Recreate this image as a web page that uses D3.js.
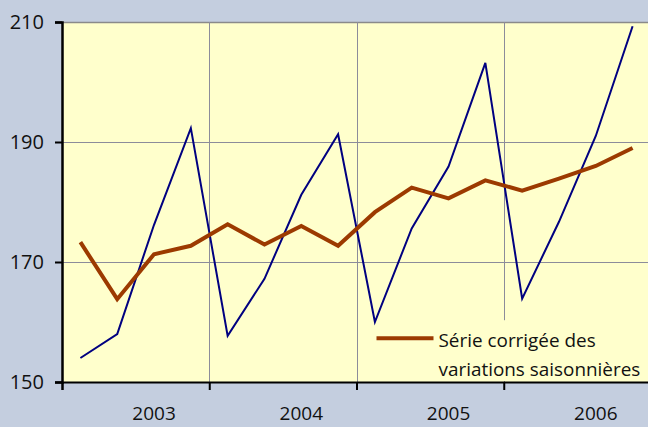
<!DOCTYPE html>
<html>
<head>
<meta charset="utf-8">
<script src="https://cdn.jsdelivr.net/npm/d3@7"></script>
<style>
  body { margin: 0; background: #c4cedf; }
  svg { display: block; }
  text { font-family: "Open Sans", "Noto Sans", sans-serif; fill: #111; }
</style>
</head>
<body>
<script>
// data: quarterly values 2003-2006
var years = ['2003', '2004', '2005', '2006'];
var brut = [154.0, 158.0, 176.2, 192.3, 157.7, 167.2, 181.2, 191.3,
            160.0, 175.6, 185.9, 203.2, 163.9, 176.7, 191.0, 209.3];
var cvs = [173.3, 163.8, 171.3, 172.7, 176.3, 172.9, 176.0, 172.7,
           178.3, 182.4, 180.6, 183.6, 181.9, 183.9, 186.0, 189.0];
var yTicks = [150, 170, 190, 210];
var legendLines = ['Série corrigée des', 'variations saisonnières'];

//setup size
var W = 648, H = 427;
var margin = {top: 22, left: 62, bottom: 45, right: -3};
var width = W - margin.left - margin.right,
    height = H - margin.top - margin.bottom;

var svg = d3.select('body').append('svg')
    .attr('width', W)
    .attr('height', H);

var g = svg.append('g')
    .attr('transform', 'translate(' + margin.left + ',' + margin.top + ')');

//scales
var xScale = d3.scaleLinear().domain([0, brut.length]).range([0, width]);
var yScale = d3.scaleLinear().domain([150, 210]).range([height, 0]);

//plot area
g.append('rect')
    .attr('width', width)
    .attr('height', height)
    .attr('fill', '#ffffcc');

//grid
g.selectAll('.hgrid').data(yTicks.slice(1)).enter().append('line')
    .attr('x1', 0).attr('x2', width)
    .attr('y1', function(d) { return yScale(d) + 0.5; })
    .attr('y2', function(d) { return yScale(d) + 0.5; })
    .attr('stroke', function(d) { return d === 210 ? '#8a8a8a' : '#8c8c9a'; })
    .attr('stroke-width', function(d) { return d === 210 ? 1.5 : 1; });

g.selectAll('.vgrid').data([4, 8, 12]).enter().append('line')
    .attr('x1', function(d) { return Math.round(xScale(d)) + 0.5; })
    .attr('x2', function(d) { return Math.round(xScale(d)) + 0.5; })
    .attr('y1', 0).attr('y2', height)
    .attr('stroke', '#8c8c9a')
    .attr('stroke-width', 1);

//legend box (covers the grid)
var lgTop = 160.3;
var lg = g.append('g')
    .attr('transform', 'translate(' + (xScale(8) + 12) + ',' + yScale(lgTop) + ')');
lg.append('rect')
    .attr('width', width - xScale(8) - 12)
    .attr('height', height - yScale(lgTop) - 1)
    .attr('fill', '#ffffcc');

//lines
var line = function(vals) {
    return d3.line()
        .x(function(d, i) { return xScale(i + 0.5); })
        .y(function(d) { return yScale(d); })(vals);
};

g.append('path')
    .attr('d', line(brut))
    .attr('fill', 'none')
    .attr('stroke', '#000080')
    .attr('stroke-width', 2);

g.append('path')
    .attr('d', line(cvs))
    .attr('fill', 'none')
    .attr('stroke', '#9c3a00')
    .attr('stroke-width', 4);

//legend content
lg.append('line')
    .attr('x1', 8).attr('x2', 65)
    .attr('y1', 18).attr('y2', 18)
    .attr('stroke', '#9c3a00')
    .attr('stroke-width', 4);
lg.selectAll('.lt').data(legendLines).enter().append('text')
    .attr('x', 70)
    .attr('y', function(d, i) { return 27 + i * 28.5; })
    .attr('font-size', '18.9px')
    .text(function(d) { return d; });

//axes
var yAxis = d3.axisLeft(yScale).tickValues(yTicks).tickSize(7).tickFormat(d3.format('d'));
var ya = g.append('g').call(yAxis);
ya.select('.domain').attr('stroke', '#000').attr('stroke-width', 2.5);
ya.selectAll('.tick line').attr('stroke', '#000').attr('stroke-width', 2);
ya.selectAll('.tick text')
    .attr('x', -18)
    .attr('font-size', '20px')
    .attr('fill', '#111')
    .style('font-family', '"Open Sans", sans-serif');

var xAxis = d3.axisBottom(xScale).tickValues([0, 4, 8, 12, 16]).tickSize(8).tickFormat('');
var xa = g.append('g').attr('transform', 'translate(0,' + height + ')').call(xAxis);
xa.select('.domain').attr('stroke', '#000').attr('stroke-width', 2);
xa.selectAll('.tick line').attr('stroke', '#000').attr('stroke-width', 2);

g.selectAll('.year').data(years).enter().append('text')
    .attr('x', function(d, i) { return xScale(i * 4 + 2.5); })
    .attr('y', height + 38)
    .attr('text-anchor', 'middle')
    .attr('font-size', '19px')
    .text(function(d) { return d; });
</script>
</body>
</html>
